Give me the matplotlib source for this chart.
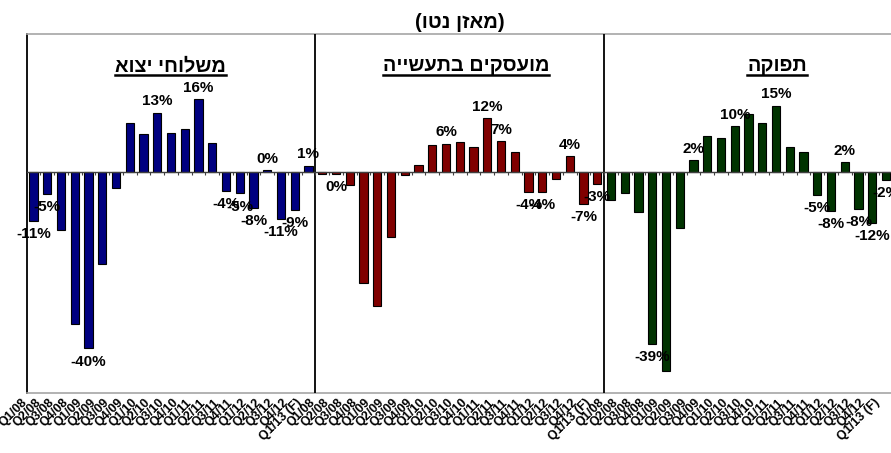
import matplotlib
matplotlib.use('Agg')
import matplotlib.pyplot as plt
import matplotlib.transforms as mtransforms
from matplotlib.lines import Line2D

plt.rcParams['font.family'] = ['Liberation Sans', 'DejaVu Sans']

# ---- data ----
quarters = ['Q1/08', 'Q2/08', 'Q3/08', 'Q4/08', 'Q1/09', 'Q2/09', 'Q3/09', 'Q4/09',
            'Q1/10', 'Q2/10', 'Q3/10', 'Q4/10', 'Q1/11', 'Q2/11', 'Q3/11', 'Q4/11',
            'Q1/12', 'Q2/12', 'Q3/12', 'Q4/12', 'Q1/13 (F)']

main_title = '(מאזן נטו)'
panel_titles = ['משלוחי יצוא', 'מועסקים בתעשייה', 'תפוקה']

exports = [-11.1, -5.1, -13.1, -34.4, -40.0, -20.8, -3.6, 11.0, 8.5, 13.4, 8.7,
           9.6, 16.4, 6.6, -4.4, -4.9, -8.1, 0.4, -10.7, -8.6, 1.4]
exports_labels = ['-11%', '-5%', '', '', '-40%', '', '', '', '', '13%', '',
                  '', '16%', '', '-4%', '-5%', '-8%', '0%', '-11%', '-9%', '1%']

employment = [-0.4, -0.4, -3.0, -25.1, -30.3, -14.7, -0.8, 1.5, 6.0, 6.4, 6.8,
              5.6, 12.2, 7.0, 4.4, -4.5, -4.5, -1.6, 3.6, -7.2, -2.8]
employment_labels = ['', '0%', '', '', '', '', '', '', '', '6%', '',
                     '', '12%', '7%', '', '-4%', '-4%', '', '4%', '-7%', '-3%']

output = [-6.5, -4.7, -9.0, -39.0, -45.1, -12.8, 2.6, 8.2, 7.6, 10.4, 13.1,
          11.0, 15.0, 5.5, 4.4, -5.3, -8.8, 2.3, -8.5, -11.5, -1.9]
output_labels = ['', '', '', '-39%', '', '', '2%', '', '', '10%', '',
                 '', '15%', '', '', '-5%', '-8%', '2%', '-8%', '-12%', '-2%']

series = [exports, employment, output]
series_labels = [exports_labels, employment_labels, output_labels]
colors = ['#000080', '#800000', '#003300']


def rtl(s):
    """Visual order for right-to-left text (matplotlib has no bidi)."""
    mirror = {'(': ')', ')': '('}
    return ''.join(mirror.get(c, c) for c in s[::-1])


# ---- figure ----
W, H = 891, 453
fig = plt.figure(figsize=(W / 100, H / 100), dpi=100)
ax_left, ax_right, ax_top, ax_bottom = 26.6, 892.9, 34.0, 393.0
ax = fig.add_axes([ax_left / W, 1 - ax_bottom / H,
                   (ax_right - ax_left) / W, (ax_bottom - ax_top) / H])

n = len(quarters)
values, bar_colors, labels, ticklabels = [], [], [], []
for s, lab, c in zip(series, series_labels, colors):
    values += s
    labels += lab
    bar_colors += [c] * len(s)
    ticklabels += quarters
xs = list(range(len(values)))

ax.bar(xs, values, width=0.6, color=bar_colors, edgecolor='black',
       linewidth=0.8, zorder=3)

ax.set_xlim(-0.5, len(values) - 0.5)
ax.set_ylim(-50.1, 31.2)

# frame
for side in ['top', 'bottom', 'right']:
    ax.spines[side].set_color('#a6a6a6')
    ax.spines[side].set_linewidth(1.2)
ax.spines['left'].set_color('black')
ax.spines['left'].set_linewidth(1.3)
ax.set_yticks([])

# separators between panels
for k in range(1, len(series)):
    ax.axvline(k * n - 0.5, color='black', linewidth=1.3, zorder=4)

# zero (category) axis with small tick marks between categories
ax.axhline(0, color='#404040', linewidth=1.0, zorder=4)
ax.vlines([i + 0.5 for i in range(len(values) - 1)], -0.75, 0,
          color='#404040', linewidth=0.8, zorder=4)

# category labels
ax.set_xticks(xs)
ax.set_xticklabels(ticklabels, rotation=45, ha='right', va='top', fontsize=9,
                   fontweight='bold')
ax.tick_params(axis='x', length=0, pad=2.5)
shift = mtransforms.ScaledTranslation(-3 / 72, 0, fig.dpi_scale_trans)
for t in ax.get_xticklabels():
    t.set_transform(t.get_transform() + shift)

# data labels
for x, v, lab in zip(xs, values, labels):
    if not lab:
        continue
    off = 8 if v >= 0 else -9.5
    ax.annotate(lab, (x, v), xytext=(0, off), textcoords='offset points',
                ha='center', va='center', fontsize=11, fontweight='bold',
                zorder=5)

# titles
fig.text(460 / W, 1 - 22 / H, rtl(main_title), ha='center', va='center',
         fontsize=14.5, fontweight='bold')

title_x = [9.97, 31.46, 54.07]
title_y = 22.8
title_objs = []
for tx, tt in zip(title_x, panel_titles):
    t = ax.text(tx, title_y, rtl(tt), ha='center', va='baseline', fontsize=14.3,
                fontweight='bold', zorder=5)
    title_objs.append(t)

fig.canvas.draw()
renderer = fig.canvas.get_renderer()
for t in title_objs:
    bb = t.get_window_extent(renderer)
    base_y = ax.transData.transform((0, title_y))[1]
    y = base_y - 3.5
    fig.add_artist(Line2D([bb.x0, bb.x1], [y, y], transform=None,
                          color='black', linewidth=1.8))

fig.savefig('out.png', dpi=100)
